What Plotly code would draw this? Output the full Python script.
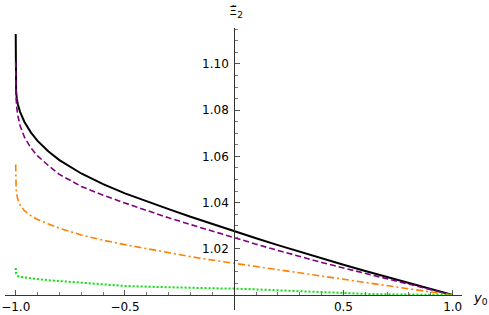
import plotly.graph_objects as go

# sample positions on the y0 axis
y0 = [-1.0, -0.9999, -0.9995, -0.998, -0.995, -0.99, -0.98, -0.96, -0.93, -0.9, -0.85, -0.8,
      -0.7, -0.6, -0.5, -0.4, -0.3, -0.2, -0.1, 0.0, 0.1, 0.2, 0.3, 0.4, 0.5,
      0.6, 0.7, 0.8, 0.9, 1.0]

xi_black = [1.113, 1.100, 1.094, 1.088, 1.085, 1.0825, 1.0793, 1.0749, 1.0703, 1.0667, 1.0621, 1.0584,
            1.0526, 1.0480, 1.0440, 1.0405, 1.0372, 1.0339, 1.0307, 1.0276, 1.02455, 1.0216,
            1.0187, 1.0159, 1.0131, 1.0104, 1.0078, 1.0052, 1.0026, 1.0]

xi_purple = [1.101, 1.095, 1.090, 1.085, 1.0810, 1.0775, 1.0733, 1.0683, 1.0636, 1.0602, 1.0560, 1.0522,
             1.0470, 1.0432, 1.0398, 1.0365, 1.0334, 1.0305, 1.0276, 1.0248, 1.0220, 1.0193,
             1.0166, 1.0141, 1.0117, 1.0094, 1.0071, 1.0047, 1.0024, 1.0]

xi_orange = [1.0565, 1.053, 1.050, 1.046, 1.0435, 1.0412, 1.0390, 1.0365, 1.0343, 1.0327, 1.0307, 1.0289,
             1.0260, 1.0237, 1.0218, 1.0200, 1.0183, 1.0166, 1.0151, 1.0137, 1.0122, 1.0108,
             1.0094, 1.0080, 1.0067, 1.0053, 1.0040, 1.0027, 1.0013, 1.0]

xi_green = [1.0117, 1.0108, 1.0100, 1.0092, 1.0087, 1.0082, 1.0078, 1.0075, 1.0072, 1.0069, 1.0064, 1.0060,
            1.0052, 1.0045, 1.0039, 1.0036, 1.0033, 1.0031, 1.0029, 1.0028, 1.0024, 1.0019,
            1.0015, 1.0011, 1.0008, 1.0005, 1.0003, 1.0002, 1.0001, 1.0]

x_ticks = [-1.0, -0.5, 0.5, 1.0]
x_ticktext = ["\u22121.0", "\u22120.5", "0.5", "1.0"]
x_minor = [-0.9, -0.8, -0.7, -0.6, -0.4, -0.3, -0.2, -0.1, 0.1, 0.2, 0.3, 0.4, 0.6, 0.7, 0.8, 0.9]
y_ticks = [1.02, 1.04, 1.06, 1.08, 1.10]
y_ticktext = ["1.02", "1.04", "1.06", "1.08", "1.10"]
y_minor = [1.005, 1.01, 1.015, 1.025, 1.03, 1.035, 1.045, 1.05, 1.055, 1.065, 1.07, 1.075,
           1.085, 1.09, 1.095, 1.105, 1.11, 1.115]

x_range = [-1.049, 1.0426]
y_range = [0.99351, 1.11558]

fig = go.Figure()
fig.add_trace(go.Scatter(x=y0, y=xi_black, mode="lines",
                         line=dict(color="black", width=2)))
fig.add_trace(go.Scatter(x=y0, y=xi_purple, mode="lines",
                         line=dict(color="#800080", width=1.6, dash="6px,3px")))
fig.add_trace(go.Scatter(x=y0, y=xi_orange, mode="lines",
                         line=dict(color="#FF8000", width=1.6, dash="7px,3px,2px,3px")))
fig.add_trace(go.Scatter(x=y0, y=xi_green, mode="lines",
                         line=dict(color="#00E600", width=2, dash="2px,2px")))

font = dict(family="DejaVu Sans", size=12, color="black")
xpos = (1.0 - y_range[0]) / (y_range[1] - y_range[0])
ypos = (0.0 - x_range[0]) / (x_range[1] - x_range[0])

fig.update_layout(
    width=489, height=315,
    margin=dict(l=5, r=27, t=28, b=5, autoexpand=False),
    paper_bgcolor="white", plot_bgcolor="white",
    showlegend=False,
    font=font,
    xaxis=dict(range=x_range, showgrid=False, zeroline=False, automargin=False,
               showline=True, linecolor="#333333", linewidth=1,
               anchor="free", position=xpos,
               tickmode="array", tickvals=x_ticks, ticktext=x_ticktext,
               ticks="inside", ticklen=5, tickcolor="#555555", tickwidth=1,
               minor=dict(tickmode="array", tickvals=x_minor, ticks="inside",
                          ticklen=3, tickcolor="#777777", tickwidth=1),
               tickfont=font, ticklabelstandoff=1),
    yaxis=dict(range=y_range, showgrid=False, zeroline=False, automargin=False,
               showline=True, linecolor="#333333", linewidth=1,
               anchor="free", position=ypos,
               tickmode="array", tickvals=y_ticks, ticktext=y_ticktext,
               ticks="inside", ticklen=5, tickcolor="#555555", tickwidth=1,
               minor=dict(tickmode="array", tickvals=y_minor, ticks="inside",
                          ticklen=3, tickcolor="#777777", tickwidth=1),
               tickfont=font, ticklabelstandoff=3),
    annotations=[
        dict(text="<i>y</i><sub>0</sub>", xref="paper", yref="paper",
             x=1.0, y=xpos, xanchor="left", yanchor="middle", xshift=9, yshift=-3,
             showarrow=False, font=dict(family="DejaVu Sans", size=13, color="black")),
        dict(text="\u039E\u0303<sub>2</sub>", xref="paper", yref="paper",
             x=ypos, y=1.0, xanchor="center", yanchor="bottom", xshift=2, yshift=6,
             showarrow=False, font=dict(family="DejaVu Sans", size=13, color="black")),
    ],
)

fig.write_html("out.html", config={"displayModeBar": False},
               post_script="document.body.style.margin='0px';document.body.style.overflow='hidden';")
